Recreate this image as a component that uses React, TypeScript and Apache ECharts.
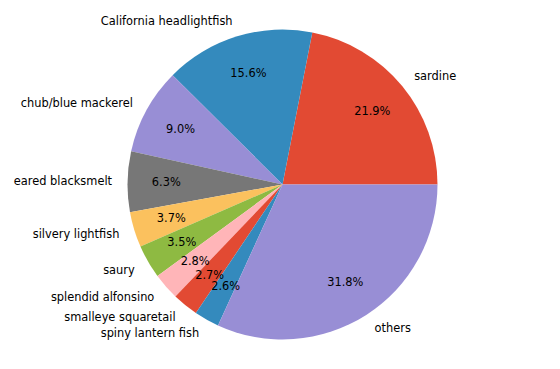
import React, { useEffect, useRef } from "react";
import * as echarts from "echarts";

const categories = [
  "sardine",
  "California headlightfish",
  "chub/blue mackerel",
  "eared blacksmelt",
  "silvery lightfish",
  "saury",
  "splendid alfonsino",
  "smalleye squaretail",
  "spiny lantern fish",
  "others",
];
const shares = [21.9, 15.6, 9.0, 6.3, 3.7, 3.5, 2.8, 2.7, 2.6, 31.8];
const palette = [
  "#E24A33",
  "#348ABD",
  "#988ED5",
  "#777777",
  "#FBC15E",
  "#8EBA42",
  "#FFB5B8",
  "#E24A33",
  "#348ABD",
  "#988ED5",
];

const FONT = "DejaVu Sans";
const R = 155;
const PCT_DIST = 0.75;
const CENTER = [282.5, 184.5];

export default function App() {
  const ref = useRef<HTMLDivElement>(null);
  useEffect(() => {
    if (!ref.current) return;
    const chart = echarts.init(ref.current, undefined, { renderer: "svg" });
    const data = categories.map((name, i) => ({
      name,
      value: shares[i],
      itemStyle: { color: palette[i] },
    }));
    chart.setOption({
      animation: false,
      backgroundColor: "#ffffff",
      series: [
        {
          type: "pie",
          center: CENTER,
          radius: [0, R],
          startAngle: 0,
          clockwise: false,
          avoidLabelOverlap: false,
          silent: true,
          data,
          itemStyle: { borderWidth: 0 },
          label: {
            show: true,
            position: "outside",
            formatter: "{b}",
            fontFamily: FONT,
            fontSize: 11.4,
            color: "#000000",
            distanceToLabelLine: 0,
          },
          labelLine: { show: false, length: R * 0.1, length2: 0 },
          labelLayout: { hideOverlap: false },
        },
        {
          type: "pie",
          center: CENTER,
          radius: [0, 2 * (R * PCT_DIST - 3)],
          startAngle: 0,
          clockwise: false,
          avoidLabelOverlap: false,
          silent: true,
          z: 3,
          data: categories.map((name, i) => ({ name, value: shares[i] })),
          itemStyle: { color: "rgba(0,0,0,0)", borderWidth: 0 },
          label: {
            show: true,
            position: "inside",
            formatter: (p: any) => p.value.toFixed(1) + "%",
            fontFamily: FONT,
            fontSize: 11.4,
            color: "#000000",
          },
          labelLine: { show: false },
          labelLayout: { hideOverlap: false },
        },
      ],
    });
    return () => chart.dispose();
  }, []);
  return (
    <div
      ref={ref}
      style={{ position: "fixed", left: 0, top: 0, width: 560, height: 369 }}
    />
  );
}
